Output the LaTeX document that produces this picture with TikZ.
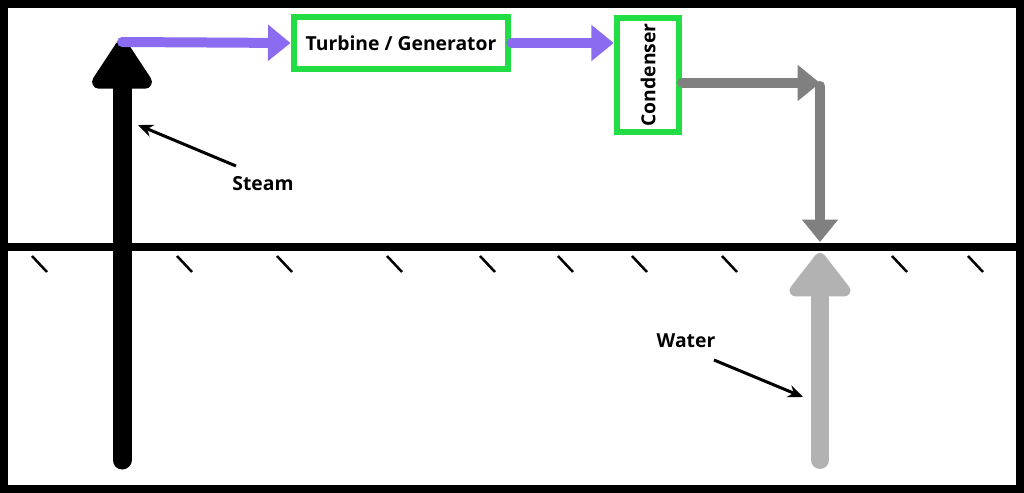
\documentclass[tikz,border=0pt]{standalone}
\usepackage{fontspec}
\setmainfont{Open Sans}
\usetikzlibrary{arrows.meta}
\definecolor{purp}{HTML}{8B6CF0}
\definecolor{grn}{HTML}{22DD44}
\begin{document}
\begin{tikzpicture}[x=0.02cm,y=-0.02cm,
  box/.style={draw=grn,line width=0.12cm,fill=white,inner sep=0pt},
  lbl/.style={font=\bfseries\fontsize{11}{13}\selectfont},
  fat/.style={line width=0.2cm,line cap=round},
  thin/.style={line width=0.06cm,-{Stealth[length=0.3cm,width=0.25cm]}}]
\useasboundingbox (0,0) rectangle (1024,493);
\fill[white] (0,0) rectangle (1024,493);
\draw[line width=0.16cm] (4,4) rectangle (1020,489);
% ground
\draw[line width=0.16cm] (0,247) -- (1024,247);
\foreach \x in {32,177,277,387,480,558,632,722,892,968}
  \draw[line width=0.05cm] (\x,256) -- (\x+15,272);
% nodes
\node[box,minimum width=4.3cm,minimum height=1.05cm,lbl] (tg) at (401,43) {Turbine / Generator};
\node[box,minimum width=1.25cm,minimum height=2.3cm] (cd) at (648,75) {};
\node[lbl,rotate=90] at (cd) {Condenser};
\coordinate (s0) at (122,460);
\coordinate (s1) at (122,40);
\coordinate (p0) at (122,42);
\coordinate (g1) at (820,83);
\coordinate (g2) at (820,242);
\coordinate (w0) at (820,460);
\coordinate (w1) at (820,253);
% steam pipe
\draw[line width=0.38cm,line cap=round,-{Triangle[length=1.1cm,width=1.35cm,round]}] (s0) -- (s1);
\draw[purp,fat,-{Triangle[length=0.45cm,width=0.7cm]}] (p0) -- (tg.west);
\draw[purp,fat,-{Triangle[length=0.45cm,width=0.7cm]}] (tg.east) -- (cd.west|-tg.east);
\draw[gray,fat,-{Triangle[length=0.45cm,width=0.7cm]}] (cd.east|-g1) -- (g1);
\draw[gray,fat,-{Triangle[length=0.45cm,width=0.7cm]}] (820,86) -- (g2);
\draw[black!30,line width=0.36cm,line cap=round,-{Triangle[length=0.95cm,width=1.4cm,round]}] (w0) -- (w1);
% labels
\node[lbl] (st) at (263,184) {Steam};
\node[lbl] (wa) at (686,341) {Water};
\coordinate (sa) at (138,125);
\coordinate (wb) at (803,397);
\draw[thin] (236,166) -- (sa);
\draw[thin] (714,360) -- (wb);
\end{tikzpicture}
\end{document}
